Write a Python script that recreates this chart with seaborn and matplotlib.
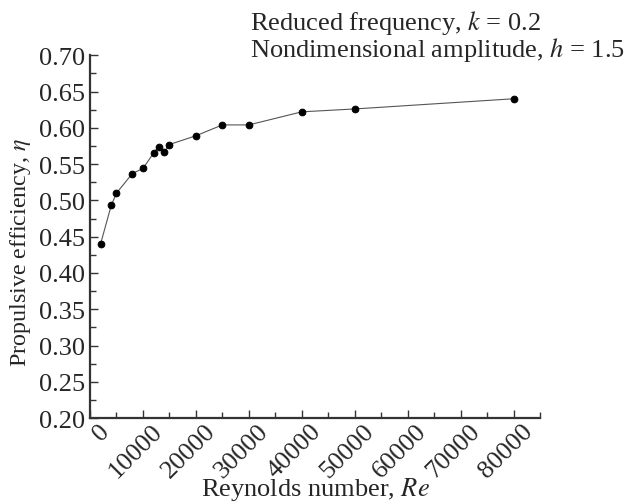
import matplotlib
matplotlib.use("Agg")
import matplotlib.pyplot as plt
import matplotlib.transforms as mtransforms
import seaborn as sns
import pandas as pd
from matplotlib.ticker import MultipleLocator

re_values = [2000, 4000, 5000, 8000, 10000, 12000, 13000, 14000, 15000,
             20000, 25000, 30000, 40000, 50000, 80000]
efficiency = [0.440, 0.493, 0.510, 0.537, 0.544, 0.565, 0.574, 0.566, 0.577,
              0.589, 0.604, 0.604, 0.622, 0.626, 0.640]
x_ticks = [0, 10000, 20000, 30000, 40000, 50000, 60000, 70000, 80000]
y_ticks = [0.20, 0.25, 0.30, 0.35, 0.40, 0.45, 0.50, 0.55, 0.60, 0.65, 0.70]

df = pd.DataFrame({"Re": re_values, "eta": efficiency})

sns.set_style("ticks")
plt.rcParams["font.family"] = ["Liberation Serif", "DejaVu Serif"]
plt.rcParams["mathtext.fontset"] = "stix"

FS = 19

fig = plt.figure(figsize=(6.25, 5.02), dpi=100)
ax = fig.add_axes([0.144, 0.165, 0.720, 0.723])

sns.lineplot(data=df, x="Re", y="eta", ax=ax, color="#555555", linewidth=0.8,
             marker="o", markersize=4.8, markerfacecolor="black",
             markeredgecolor="black")

ax.set_xlim(0, 85000)
ax.set_ylim(0.20, 0.70)
ax.set_xticks(x_ticks)
ax.set_yticks(y_ticks)
ax.set_yticklabels([f"{t:.2f}" for t in y_ticks])
ax.xaxis.set_minor_locator(MultipleLocator(5000))
ax.yaxis.set_minor_locator(MultipleLocator(0.025))
ax.tick_params(which="both", direction="in", labelsize=FS, color="#333333")
ax.tick_params(which="major", length=6, width=1)
ax.tick_params(which="minor", length=4, width=1)
ax.tick_params(axis="x", which="major", pad=1)
for s in ["top", "right"]:
    ax.spines[s].set_visible(False)
for s in ["left", "bottom"]:
    ax.spines[s].set_linewidth(1.6)
    ax.spines[s].set_color("#333333")

ax.set_xticklabels([str(t) for t in x_ticks], rotation=45, ha="right",
                   va="top", rotation_mode="anchor")
offset = mtransforms.ScaledTranslation(8 / 100, 0, fig.dpi_scale_trans)
for lbl in ax.get_xticklabels():
    lbl.set_transform(lbl.get_transform() + offset)

ax.set_xlabel("")
ax.set_ylabel("")
fig.text(315 / 625, 1 - 490 / 502, "Reynolds number, $Re$", fontsize=FS,
         ha="center", va="center")
fig.text(21 / 625, 1 - 252 / 502, "Propulsive efficiency, $\\eta$",
         fontsize=17.3, ha="center", va="center", rotation=90)

fig.text(250 / 625, 1 - 30 / 502, "Reduced frequency, $k$ = 0.2", fontsize=FS,
         ha="left", va="baseline")
fig.text(250 / 625, 1 - 57 / 502, "Nondimensional amplitude, $h$ = 1.5",
         fontsize=FS, ha="left", va="baseline")

fig.savefig("out.png", dpi=100)
